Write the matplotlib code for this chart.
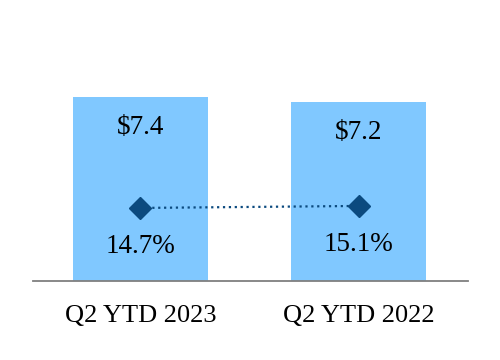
import matplotlib.pyplot as plt

# Data
categories = ["Q2 YTD 2023", "Q2 YTD 2022"]
revenue = [7.4, 7.2]
revenue_labels = ["$7.4", "$7.2"]
margin = [14.7, 15.1]
margin_labels = ["14.7%", "15.1%"]

plt.rcParams['font.family'] = ['Liberation Serif', 'DejaVu Serif']

fig = plt.figure(figsize=(5, 3.6), dpi=100)
ax = fig.add_axes([0.066, 0.2194, 0.87, 0.725])

x = list(range(len(categories)))
ax.bar(x, revenue, width=0.618, color='#80C8FF')
for xi, v, lab in zip(x, revenue, revenue_labels):
    ax.annotate(lab, (xi, v), xytext=(0, -22), textcoords='offset points',
                ha='center', va='center', fontsize=19.5)

ax.set_xlim(-0.492, 1.499)
ax.set_ylim(0, 10.5)
ax.set_xticks(x)
ax.set_xticklabels(categories, fontsize=19)
ax.tick_params(axis='x', length=0, pad=17.5)
ax.set_yticks([])
for s in ['top', 'right', 'left']:
    ax.spines[s].set_visible(False)
ax.spines['bottom'].set_color('#7f7f7f')
ax.spines['bottom'].set_linewidth(1.3)

ax2 = ax.twinx()
ax2.set_ylim(0, 52.5)
ax2.plot(x, margin, color='#0B4A7F', linestyle=':', linewidth=1.6,
         marker='D', markersize=11)
for xi, v, lab in zip(x, margin, margin_labels):
    ax2.annotate(lab, (xi, v), xytext=(0, -27.5), textcoords='offset points',
                 ha='center', va='center', fontsize=19.5)
ax2.set_yticks([])
for s in ax2.spines.values():
    s.set_visible(False)

fig.savefig('out.png', dpi=100)
